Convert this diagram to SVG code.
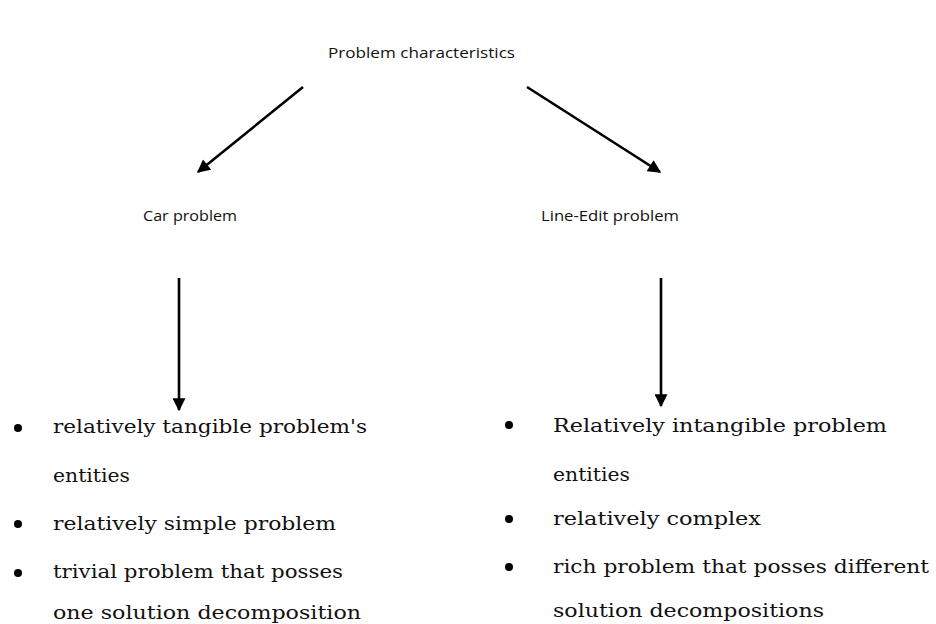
<svg xmlns="http://www.w3.org/2000/svg" width="936" height="624" viewBox="0 0 936 624">
<style>
.lbl{font-family:"Open Sans","Noto Sans",sans-serif;font-size:15px;fill:#111}
.itm{font-family:"DejaVu Serif","Liberation Serif",serif;font-size:18px;fill:#111}
.conn{stroke:#000;stroke-width:2.6;fill:none;marker-end:url(#ah)}
</style>
<defs>
<marker id="ah" viewBox="0 0 10 10" refX="9" refY="5" markerWidth="5.5" markerHeight="5" orient="auto" markerUnits="strokeWidth">
<path d="M0,0 L10,5 L0,10 z" fill="#000"/>
</marker>
</defs>
<rect width="936" height="624" fill="#fff"/>
<g id="root"><text class="lbl" x="328" y="58" textLength="187" lengthAdjust="spacingAndGlyphs">Problem characteristics</text></g>
<g id="car"><text class="lbl" x="143" y="221" textLength="94" lengthAdjust="spacingAndGlyphs">Car problem</text></g>
<g id="lineedit"><text class="lbl" x="541" y="221" textLength="138" lengthAdjust="spacingAndGlyphs">Line-Edit problem</text></g>
<g id="car-items">
<circle cx="18" cy="428" r="4" fill="#000"/>
<text class="itm" x="53" y="433" textLength="314" lengthAdjust="spacingAndGlyphs">relatively tangible problem's</text>
<text class="itm" x="53" y="482" textLength="77" lengthAdjust="spacingAndGlyphs">entities</text>
<circle cx="18" cy="524" r="4" fill="#000"/>
<text class="itm" x="53" y="530" textLength="283" lengthAdjust="spacingAndGlyphs">relatively simple problem</text>
<circle cx="18" cy="573" r="4" fill="#000"/>
<text class="itm" x="53" y="578" textLength="290" lengthAdjust="spacingAndGlyphs">trivial problem that posses</text>
<text class="itm" x="53" y="619" textLength="308" lengthAdjust="spacingAndGlyphs">one solution decomposition</text>
</g>
<g id="lineedit-items">
<circle cx="509" cy="425" r="4" fill="#000"/>
<text class="itm" x="553" y="432" textLength="334" lengthAdjust="spacingAndGlyphs">Relatively intangible problem</text>
<text class="itm" x="553" y="481" textLength="77" lengthAdjust="spacingAndGlyphs">entities</text>
<circle cx="509" cy="519" r="4" fill="#000"/>
<text class="itm" x="553" y="525" textLength="208" lengthAdjust="spacingAndGlyphs">relatively complex</text>
<circle cx="509" cy="567" r="4" fill="#000"/>
<text class="itm" x="553" y="573" textLength="376" lengthAdjust="spacingAndGlyphs">rich problem that posses different</text>
<text class="itm" x="553" y="617" textLength="271" lengthAdjust="spacingAndGlyphs">solution decompositions</text>
</g>
<g id="connectors">
<line class="conn" x1="303" y1="87" x2="198" y2="172"/>
<line class="conn" x1="527" y1="87" x2="660" y2="172"/>
<line class="conn" x1="179" y1="278" x2="179" y2="410"/>
<line class="conn" x1="661" y1="278" x2="661" y2="406"/>
</g>
</svg>
